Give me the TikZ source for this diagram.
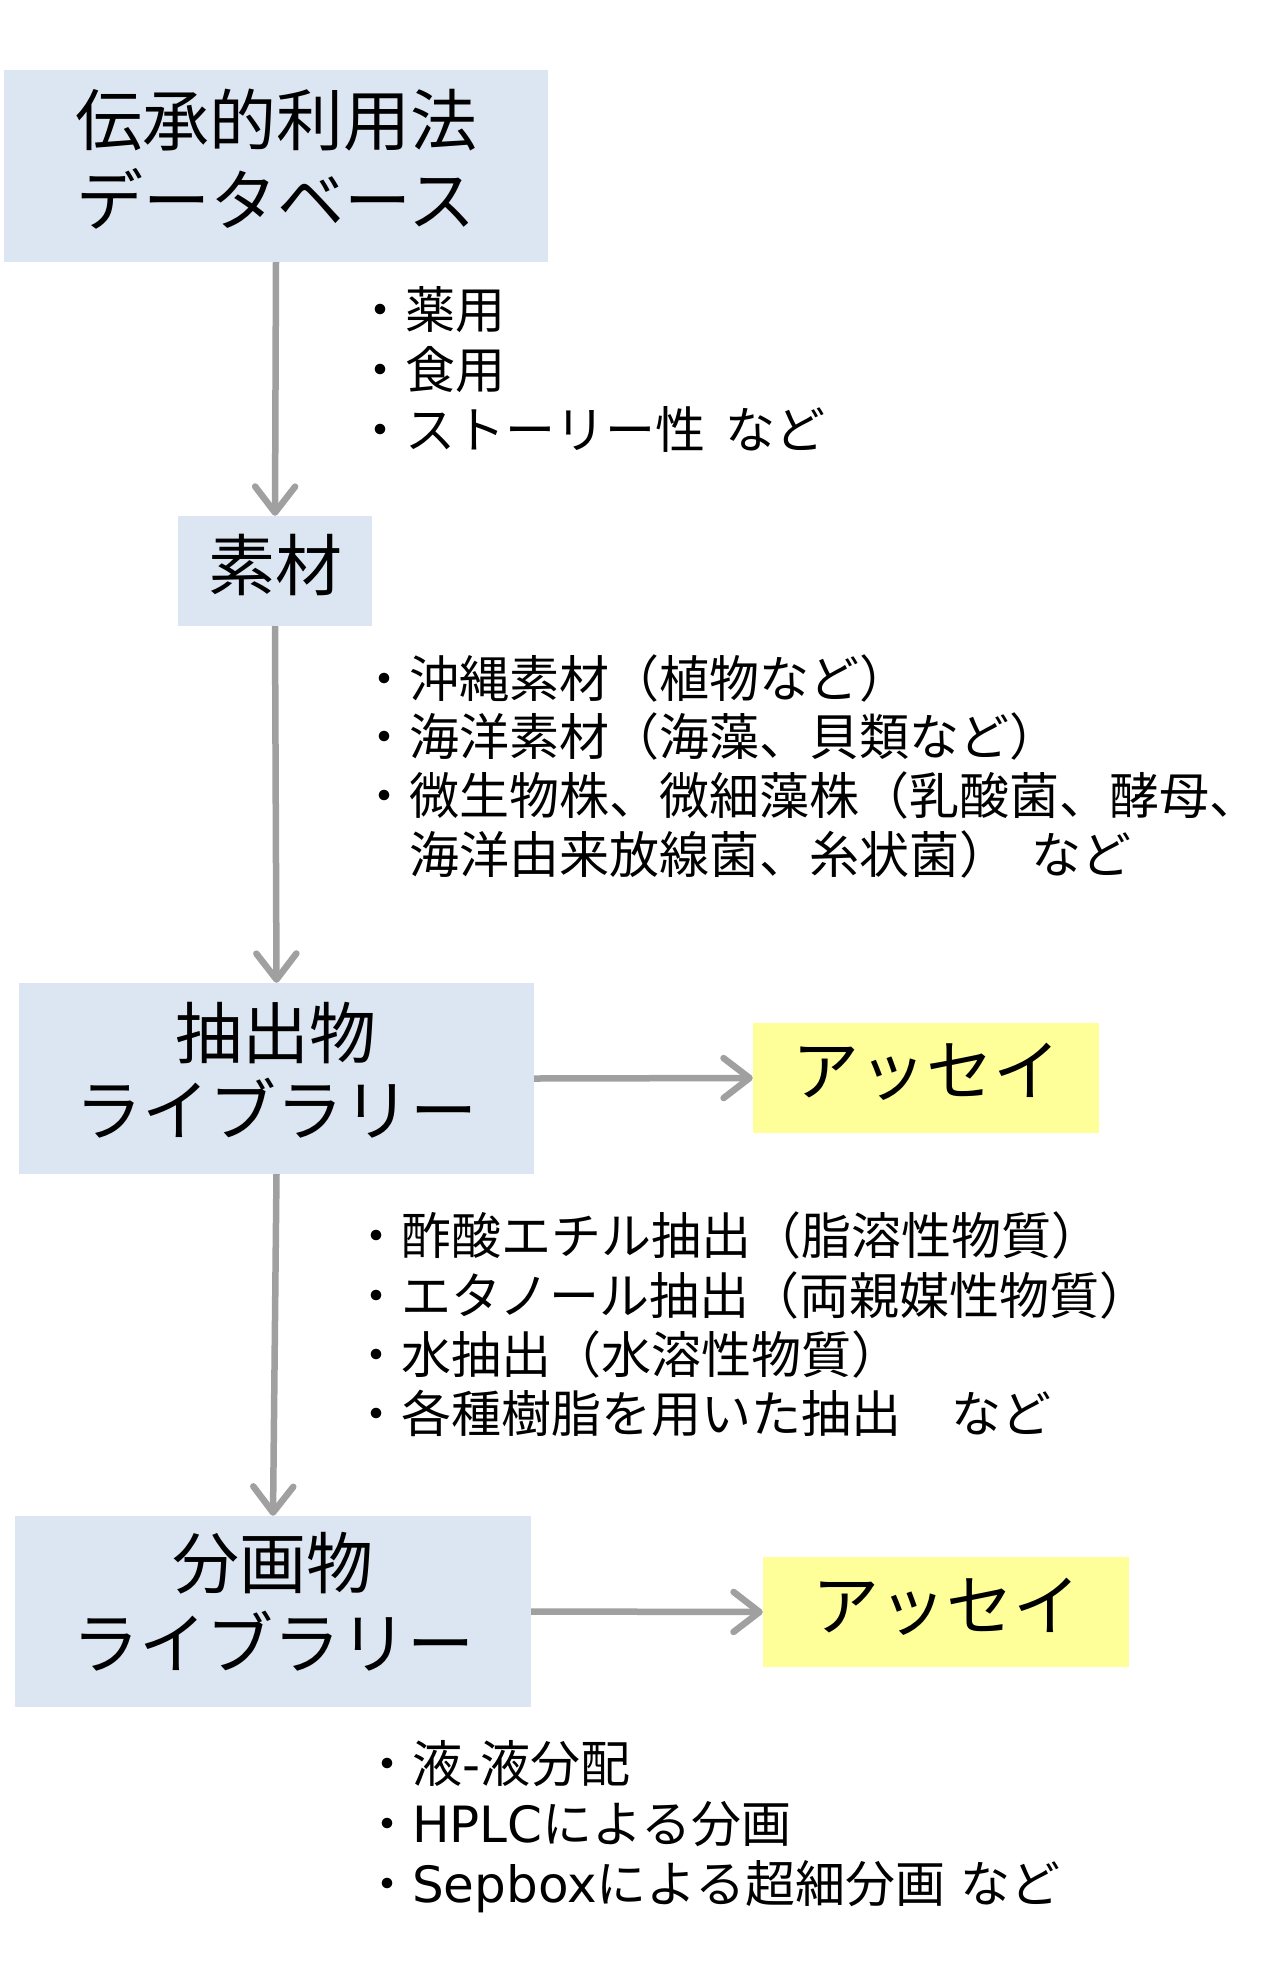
\documentclass[tikz,border=0pt]{standalone}
\usepackage{fontspec}
\setmainfont{Noto Sans CJK JP}
\newfontfamily\latinf{DejaVu Sans}
\usetikzlibrary{arrows.meta}
\definecolor{boxblue}{HTML}{DCE6F2}
\definecolor{boxyellow}{HTML}{FFFF99}
\definecolor{arrowgray}{HTML}{A0A0A0}
\tikzset{
  bluebox/.style={fill=boxblue, draw=none, inner sep=0pt},
  yellowbox/.style={fill=boxyellow, draw=none, inner sep=0pt},
  bigtext/.style={inner sep=0pt, font=\fontsize{67}{80}\selectfont, text height=59pt, text depth=8pt, anchor=center},
  listtext/.style={inner sep=0pt, font=\fontsize{50}{59}\selectfont, text height=44pt, text depth=6pt, anchor=west},
  flow/.style={draw=arrowgray, line width=6.5pt, -{Straight Barb[length=26pt,width=40pt,round]}}
}
\begin{document}
\begin{tikzpicture}[x=1pt,y=-1pt]
\fill[white] (0,0) rectangle (1266,1962);
\useasboundingbox (0,0) rectangle (1266,1962);

% boxes
\node[bluebox, minimum width=544pt, minimum height=192pt] (db) at (276,166) {};
\node[bluebox, minimum width=194pt, minimum height=110pt] (mat) at (275,571) {};
\node[bluebox, minimum width=515pt, minimum height=191pt] (ext) at (276.5,1078.5) {};
\node[yellowbox, minimum width=346pt, minimum height=110pt] (as1) at (926,1078) {};
\node[bluebox, minimum width=516pt, minimum height=191pt] (frac) at (273,1611.5) {};
\node[yellowbox, minimum width=366pt, minimum height=110pt] (as2) at (946,1612) {};

% box texts
\node[bigtext] (dbt1) at (276,120) {伝承的利用法};
\node[bigtext] (dbt2) at (276,200) {データベース};
\node[bigtext] (matt) at (275,565) {素材};
\node[bigtext] (extt1) at (276,1033) {抽出物};
\node[bigtext] (extt2) at (276,1110) {ライブラリー};
\node[bigtext] (as1t) at (926,1070) {アッセイ};
\node[bigtext] (fract1) at (273,1563) {分画物};
\node[bigtext] (fract2) at (273,1643) {ライブラリー};
\node[bigtext] (as2t) at (946,1605) {アッセイ};

% connectors
\draw[flow] (db.south) -- (mat.north);
\draw[flow] (mat.south) -- (ext.north);
\draw[flow] (ext.south) -- (frac.north);
\draw[flow] (ext.east) -- (as1.west);
\draw[flow] (frac.east) -- (as2.west);

% list 1
\node[listtext] (l1a) at (355,309) {・薬用};
\node[listtext] (l1b) at (355,369) {・食用};
\node[listtext] (l1c) at (355,429) {・ストーリー性\hspace{0.4em}など};

% list 2
\node[listtext] (l2a) at (359,678) {・沖縄素材（植物など）};
\node[listtext] (l2b) at (359,736) {・海洋素材（海藻、貝類など）};
\node[listtext] (l2c) at (359,795) {・微生物株、微細藻株（乳酸菌、酵母、};
\node[listtext] (l2d) at (409,854) {海洋由来放線菌、糸状菌）\hspace{0.45em}など};

% list 3
\node[listtext] (l3a) at (351,1235) {・酢酸エチル抽出（脂溶性物質）};
\node[listtext] (l3b) at (351,1295) {・エタノール抽出（両親媒性物質）};
\node[listtext] (l3c) at (351,1354) {・水抽出（水溶性物質）};
\node[listtext] (l3d) at (351,1413) {・各種樹脂を用いた抽出　など};

% list 4
\node[listtext] (l4a) at (362,1763) {・液{\latinf -}液分配};
\node[listtext] (l4b) at (362,1823) {・{\latinf HPLC}による分画};
\node[listtext] (l4c) at (362,1883) {・{\latinf Sepbox}による超細分画\hspace{0.3em}など};
\end{tikzpicture}
\end{document}
